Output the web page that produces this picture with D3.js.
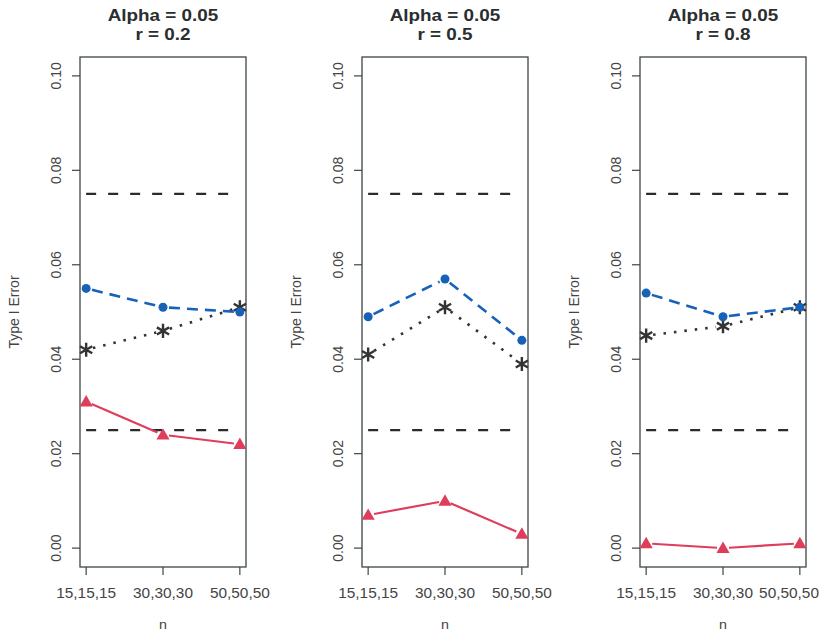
<!DOCTYPE html>
<html>
<head>
  <meta charset="utf-8">
  <title>Type I Error</title>
  <script src="https://d3js.org/d3.v7.min.js"></script>
  <style>
    html, body { margin: 0; background: #fff; overflow: hidden; }
    svg text { font-family: "Liberation Sans", Arial, sans-serif; }
  </style>
</head>
<body>
  <div id="chart"></div>
  <script>
    // data
    const categories = ['15,15,15', '30,30,30', '50,50,50'];
    const rValues = ['0.2', '0.5', '0.8'];
    const yTicks = [0.00, 0.02, 0.04, 0.06, 0.08, 0.10];
    const bounds = [0.025, 0.075];
    // one array per panel (r = 0.2, 0.5, 0.8)
    const blueSeries = [[0.055, 0.051, 0.050], [0.049, 0.057, 0.044], [0.054, 0.049, 0.051]];
    const starSeries = [[0.042, 0.046, 0.051], [0.041, 0.051, 0.039], [0.045, 0.047, 0.051]];
    const redSeries  = [[0.031, 0.024, 0.022], [0.007, 0.010, 0.003], [0.001, 0.000, 0.001]];

    const W = 827, H = 636;
    const panelLeft = [80, 362, 640];
    const pw = 166, plotTop = 57, plotBottom = 567;
    const axisCol = '#3a4745';
    const textCol = '#444';
    const sx = 1.1; // horizontal stretch of the scan

    const svg = d3.select('#chart').append('svg')
      .attr('width', W).attr('height', H);

    const y = d3.scaleLinear().domain([-0.004, 0.104]).range([plotBottom, plotTop]);

    // segments between points with a gap round each marker (type = "b")
    function gapSegs(pts, gap) {
      const out = [];
      for (let i = 0; i < pts.length - 1; i++) {
        const [x1, y1] = pts[i], [x2, y2] = pts[i + 1];
        const dx = x2 - x1, dy = y2 - y1, L = Math.hypot(dx, dy);
        const ux = dx / L, uy = dy / L;
        out.push([[x1 + ux * gap, y1 + uy * gap], [x2 - ux * gap, y2 - uy * gap]]);
      }
      return out;
    }

    rValues.forEach((r, p) => {
      const x0 = panelLeft[p];
      const x = d3.scaleLinear().domain([0.92, 3.08]).range([x0, x0 + pw]);
      const g = svg.append('g');

      // titles
      const cx = x0 + pw / 2;
      g.append('text').attr('transform', `translate(${cx},21) scale(1.18,1)`)
        .attr('text-anchor', 'middle').attr('font-size', 16).attr('font-weight', 'bold')
        .attr('fill', '#2a2e30').text('Alpha = 0.05');
      g.append('text').attr('transform', `translate(${cx},39.5) scale(1.18,1)`)
        .attr('text-anchor', 'middle').attr('font-size', 16).attr('font-weight', 'bold')
        .attr('fill', '#2a2e30').text('r = ' + r);

      // box
      g.append('rect').attr('x', x0).attr('y', plotTop).attr('width', pw).attr('height', plotBottom - plotTop)
        .attr('fill', 'none').attr('stroke', axisCol).attr('stroke-width', 1.3);

      // y axis
      yTicks.forEach(t => {
        g.append('line').attr('x1', x0 - 8).attr('x2', x0).attr('y1', y(t)).attr('y2', y(t))
          .attr('stroke', axisCol).attr('stroke-width', 1.2);
        g.append('text').attr('transform', `translate(${x0 - 19},${y(t)}) rotate(-90)`)
          .attr('text-anchor', 'middle').attr('font-size', 14).attr('fill', textCol)
          .text(d3.format('.2f')(t));
      });
      g.append('text').attr('transform', `translate(${x0 - 61},${y(0.05)}) rotate(-90)`)
        .attr('text-anchor', 'middle').attr('font-size', 14).attr('fill', textCol)
        .text('Type I Error');

      // x axis
      categories.forEach((c, i) => {
        g.append('line').attr('x1', x(i + 1)).attr('x2', x(i + 1)).attr('y1', plotBottom).attr('y2', plotBottom + 8)
          .attr('stroke', axisCol).attr('stroke-width', 1.2);
        const t = g.append('text').attr('text-anchor', 'middle').attr('font-size', 14)
          .attr('fill', textCol).text(c);
        const half = t.node().getComputedTextLength() * sx / 2;
        const lx = Math.min(x(i + 1), W - 8 - half);
        t.attr('transform', `translate(${lx},598) scale(${sx},1)`);
      });
      g.append('text').attr('transform', `translate(${cx},629) scale(${sx},1)`)
        .attr('text-anchor', 'middle').attr('font-size', 13).attr('fill', textCol).text('n');

      // bounds
      bounds.forEach(b => {
        g.append('line').attr('x1', x(1)).attr('x2', x(3)).attr('y1', y(b)).attr('y2', y(b))
          .attr('stroke', '#2b2b2b').attr('stroke-width', 2.3).attr('stroke-dasharray', '10,12');
      });

      const line = d3.line();
      const pts = s => s.map((v, i) => [x(i + 1), y(v)]);

      // red: solid with triangles
      gapSegs(pts(redSeries[p]), 6).forEach(sg => {
        g.append('path').attr('d', line(sg)).attr('stroke', '#df3d5c').attr('stroke-width', 2.2).attr('fill', 'none');
      });
      g.selectAll(null).data(pts(redSeries[p])).enter().append('path')
        .attr('d', d3.symbol(d3.symbolTriangle, 75))
        .attr('transform', d => `translate(${d[0]},${d[1] + 1})`)
        .attr('fill', '#df3d5c');

      // black: dotted with asterisks
      gapSegs(pts(starSeries[p]), 7).forEach(sg => {
        g.append('path').attr('d', line(sg)).attr('stroke', '#333').attr('stroke-width', 2.6)
          .attr('stroke-dasharray', '2.5,8').attr('fill', 'none');
      });
      g.selectAll(null).data(pts(starSeries[p])).enter().append('path')
        .attr('d', d3.symbol(d3.symbolAsterisk, 140))
        .attr('transform', d => `translate(${d[0]},${d[1]})`)
        .attr('stroke', '#333').attr('stroke-width', 2.4).attr('fill', 'none');

      // blue: long dash with circles
      gapSegs(pts(blueSeries[p]), 6).forEach(sg => {
        g.append('path').attr('d', line(sg)).attr('stroke', '#1762b8').attr('stroke-width', 2.6)
          .attr('stroke-dasharray', '11,7').attr('fill', 'none');
      });
      g.selectAll(null).data(pts(blueSeries[p])).enter().append('circle')
        .attr('cx', d => d[0]).attr('cy', d => d[1]).attr('r', 4.5)
        .attr('fill', '#1762b8');
    });
  </script>
</body>
</html>
